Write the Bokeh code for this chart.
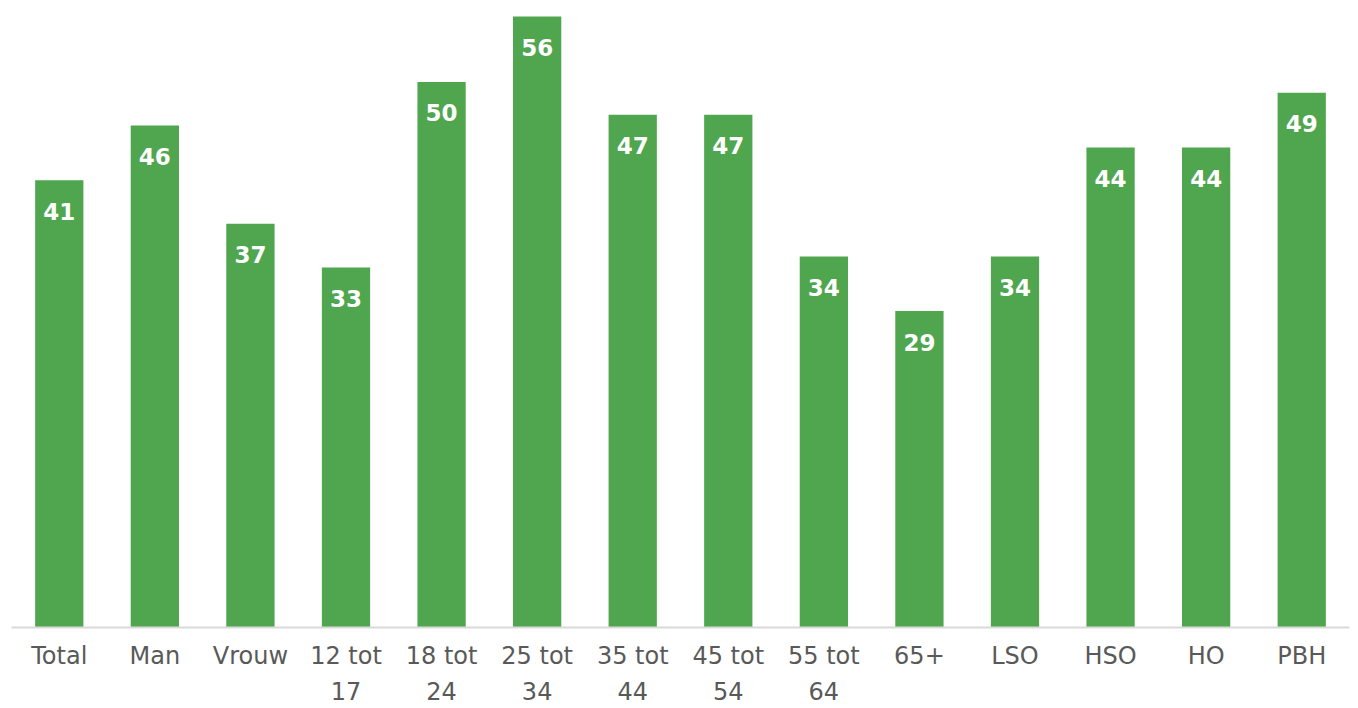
from bokeh.plotting import figure
from bokeh.models import ColumnDataSource, Range1d
from bokeh.core.properties import value
from bokeh.embed import file_html
from bokeh.resources import INLINE

categories = ["Total", "Man", "Vrouw", "12 tot\n17", "18 tot\n24", "25 tot\n34",
              "35 tot\n44", "45 tot\n54", "55 tot\n64", "65+", "LSO", "HSO", "HO", "PBH"]
values = [41, 46, 37, 33, 50, 56, 47, 47, 34, 29, 34, 44, 44, 49]
labels = [str(v) for v in values]

src = ColumnDataSource(dict(cat=categories, val=values, lab=labels))

p = figure(x_range=categories, y_range=Range1d(0, 56.73), width=1351, height=708,
           output_backend="svg", toolbar_location=None,
           min_border_left=11, min_border_right=2, min_border_top=8, min_border_bottom=0)

p.vbar(x="cat", top="val", width=0.505, source=src, color="#4FA64F", line_color=None)
p.text(x="cat", y="val", text="lab", source=src, text_color="white",
       text_font=value("DejaVu Sans"), text_font_style="bold", text_font_size="23px",
       text_align="center", text_baseline="middle", y_offset=31)

p.yaxis.visible = False
p.grid.visible = False
p.outline_line_color = None
p.xaxis.axis_line_color = "#D9D9D9"
p.xaxis.axis_line_width = 2
p.xaxis.major_tick_line_color = None
p.xaxis.minor_tick_line_color = None
p.xaxis.major_label_text_color = "#595959"
p.xaxis.major_label_text_font = "DejaVu Sans"
p.xaxis.major_label_text_font_size = "24px"
p.xaxis.major_label_text_line_height = 1.3
p.xaxis.major_label_standoff = 8
p.x_range.range_padding = 0
p.background_fill_color = "white"
p.border_fill_color = "white"

open("out.html", "w").write(file_html(p, INLINE))
